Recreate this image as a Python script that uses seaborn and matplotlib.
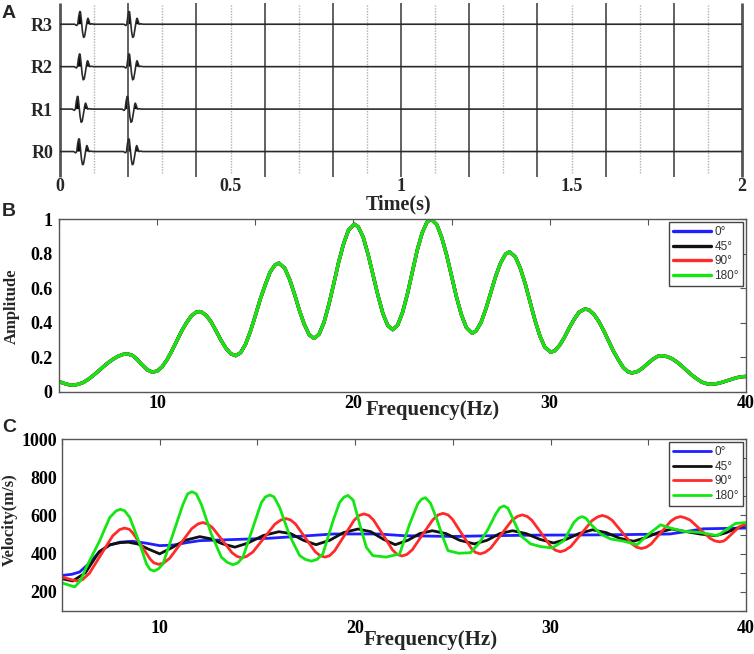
import numpy as np
import pandas as pd
import matplotlib
matplotlib.use("Agg")
import matplotlib.pyplot as plt
import seaborn as sns

# ---- data ----
# A: synthetic traces, two wavelet arrivals per receiver (s)
receivers = ["R0", "R1", "R2", "R3"]
arrivals = [[0.056, 0.202], [0.052, 0.198], [0.058, 0.203], [0.059, 0.203]]
wavelet_dt = [-0.016, -0.010, -0.007, -0.004, -0.001, 0.001, 0.004, 0.007, 0.010,
              0.013, 0.016, 0.019, 0.021, 0.023, 0.026, 0.029, 0.034, 0.040]
wavelet_amp = [0.0, -0.03, 0.0, 0.19, 0.30, 0.29, 0.07, -0.18, -0.31,
               -0.29, -0.15, 0.0, 0.10, 0.14, 0.08, 0.0, 0.01, 0.0]

# B: amplitude spectrum (identical for every angle)
freq_b = [5.0, 5.25, 5.5, 5.75, 6.0, 6.25, 6.5, 6.75, 7.0, 7.25,
          7.5, 7.75, 8.0, 8.25, 8.5, 8.75, 9.0, 9.25, 9.5, 9.75,
          10.0, 10.25, 10.5, 10.75, 11.0, 11.25, 11.5, 11.75, 12.0, 12.15,
          12.25, 12.5, 12.75, 13.0, 13.25, 13.5, 13.75, 14.0, 14.25, 14.5,
          14.75, 15.0, 15.25, 15.5, 15.75, 16.0, 16.2, 16.5, 16.75, 17.0,
          17.25, 17.5, 17.75, 18.0, 18.25, 18.5, 18.75, 19.0, 19.25, 19.5,
          19.75, 20.05, 20.25, 20.5, 20.75, 21.0, 21.25, 21.5, 21.75, 22.0,
          22.25, 22.5, 22.75, 23.0, 23.25, 23.5, 23.75, 23.95, 24.25, 24.5,
          24.75, 25.0, 25.25, 25.5, 25.75, 26.05, 26.25, 26.5, 26.75, 27.0,
          27.25, 27.5, 27.75, 27.95, 28.25, 28.5, 28.75, 29.0, 29.25, 29.5,
          29.75, 30.05, 30.25, 30.5, 30.75, 31.0, 31.25, 31.5, 31.8, 32.0,
          32.25, 32.5, 32.75, 33.0, 33.25, 33.5, 33.75, 34.0, 34.2, 34.5,
          34.75, 35.0, 35.25, 35.5, 35.7, 36.0, 36.25, 36.5, 36.75, 37.0,
          37.25, 37.5, 37.75, 38.0, 38.2, 38.5, 38.75, 39.0, 39.25, 39.5,
          39.75, 40.0]
amp_b = [.060, .050, .042, .040, .045, .056, .074, .096, .120, .145,
         .169, .189, .206, .217, .220, .211, .186, .155, .128, .115,
         .121, .145, .186, .238, .296, .353, .401, .441, .462, .465,
         .463, .443, .405, .354, .300, .254, .221, .210, .227, .275,
         .350, .440, .535, .617, .692, .734, .745, .716, .651, .565,
         .471, .390, .330, .310, .334, .402, .506, .627, .752, .857,
         .936, .970, .954, .894, .794, .677, .558, .454, .384, .360,
         .386, .459, .566, .693, .820, .919, .983, 1.000, .967, .893,
         .791, .670, .549, .447, .373, .340, .353, .402, .481, .575,
         .670, .747, .797, .810, .781, .716, .627, .520, .414, .324,
         .259, .230, .238, .269, .316, .372, .421, .462, .480, .474,
         .449, .408, .355, .295, .235, .186, .141, .116, .110, .120,
         .140, .165, .189, .206, .210, .204, .191, .172, .148, .122,
         .097, .076, .057, .048, .045, .048, .055, .064, .073, .082,
         .088, .090]

# C: phase velocity curves (m/s)
freq_0 = [5.0, 5.5, 5.9, 6.4, 6.9, 7.45, 7.95, 8.6, 9.3, 10.0, 10.7, 11.4, 12.05,
          13.5, 15.5, 17.0, 18.9, 21.2, 22.5, 25.0, 27.0, 29.3, 32.0, 34.0, 36.1,
          36.9, 37.8, 40.0]
vel_0 = [286, 292, 304, 350, 408, 445, 460, 465, 455, 442, 445, 458, 468, 473, 480,
         490, 503, 503, 494, 490, 494, 497, 498, 500, 503, 515, 530, 534]

freq_45 = [5.0, 5.55, 6.2, 6.9, 7.45, 8.0, 8.4, 8.9, 9.4, 10.0, 10.6, 11.3, 12.05,
           12.6, 13.2, 13.85, 14.5, 15.3, 16.1, 16.7, 17.35, 18.0, 18.7, 19.4, 20.15,
           20.8, 21.45, 22.05, 22.7, 23.3, 23.95, 24.65, 25.35, 26.1, 26.75, 27.4,
           28.05, 28.75, 29.45, 30.15, 30.8, 31.45, 32.15, 32.85, 33.55, 34.25, 34.9,
           35.55, 36.2, 36.95, 37.7, 38.45, 39.0, 39.5, 40.0]
vel_45 = [269, 257, 300, 410, 447, 458, 460, 450, 425, 399, 430, 470, 489, 478, 452,
          434, 455, 495, 515, 505, 470, 447, 470, 510, 529, 515, 475, 447, 470, 505,
          520, 505, 470, 451, 470, 505, 520, 505, 475, 456, 475, 505, 525, 510, 480,
          465, 485, 512, 529, 515, 502, 494, 510, 532, 551]

freq_90 = [5.0, 5.55, 5.8, 6.05, 6.4, 7.0, 7.6, 7.95, 8.2, 8.45,
           8.64, 9.08, 9.51, 9.7, 9.95, 10.2, 10.51, 11.08, 11.64, 11.95,
           12.2, 12.45, 12.7, 13.2, 13.7, 13.95, 14.2, 14.45, 14.76, 15.33,
           15.89, 16.2, 16.45, 16.7, 16.95, 17.45, 17.95, 18.2, 18.45, 18.7,
           18.95, 19.45, 19.95, 20.2, 20.45, 20.7, 20.94, 21.43, 21.91, 22.15,
           22.4, 22.65, 22.93, 23.45, 23.98, 24.25, 24.5, 24.75, 24.98, 25.45,
           25.93, 26.15, 26.4, 26.65, 26.94, 27.48, 28.01, 28.3, 28.55, 28.8,
           29.04, 29.53, 30.01, 30.25, 30.5, 30.75, 31.04, 31.58, 32.11, 32.4,
           32.65, 32.9, 33.15, 33.65, 34.15, 34.4, 34.65, 34.9, 35.15, 35.65,
           36.15, 36.4, 36.65, 36.9, 37.15, 37.65, 38.15, 38.4, 38.65, 38.85,
           38.99, 39.33, 39.66, 40.0]
vel_90 = [278, 262, 257, 264, 297, 396, 494, 526, 534, 527,
          506, 439, 372, 352, 344, 351, 376, 454, 531, 555,
          563, 555, 536, 471, 405, 386, 378, 386, 408, 481,
          554, 576, 584, 576, 555, 483, 411, 390, 382, 390,
          415, 495, 575, 600, 608, 600, 576, 498, 420, 396,
          388, 396, 421, 500, 578, 603, 611, 603, 580, 505,
          430, 407, 399, 407, 429, 501, 573, 595, 603, 595,
          575, 507, 438, 418, 410, 418, 438, 505, 572, 592,
          600, 592, 575, 514, 452, 434, 427, 434, 451, 511,
          570, 587, 594, 587, 575, 528, 481, 467, 462, 466,
          476, 509, 541, 555]

freq_180 = [5.0, 5.65, 5.95, 6.25, 6.93, 7.44, 7.77, 7.99, 8.21, 8.47,
            8.98, 9.32, 9.5, 9.71, 9.93, 10.17, 10.68, 11.19, 11.43, 11.65,
            11.87, 12.13, 12.64, 13.15, 13.45, 13.75, 14.0, 14.26, 14.77, 15.2,
            15.41, 15.63, 15.85, 16.14, 16.65, 17.16, 17.45, 17.76, 18.05, 18.35,
            18.87, 19.2, 19.42, 19.63, 19.9, 20.23, 20.57, 20.9, 21.58, 22.28,
            22.79, 23.2, 23.4, 23.6, 23.85, 24.15, 24.49, 24.75, 25.3, 25.9,
            26.3, 26.76, 27.19, 27.4, 27.61, 27.82, 28.04, 28.47, 28.98, 29.49,
            30.09, 30.68, 31.19, 31.42, 31.62, 31.82, 32.05, 32.56, 33.07, 33.75,
            34.43, 35.03, 35.63, 36.14, 36.82, 37.67, 38.53, 39.04, 39.46, 40.0]
vel_180 = [247, 226, 260, 330, 468, 589, 624, 632, 624, 589,
           451, 347, 318, 309, 320, 347, 503, 658, 713, 724,
           713, 658, 503, 382, 355, 342, 352, 382, 537, 667,
           697, 707, 697, 641, 494, 390, 370, 361, 370, 399,
           572, 667, 695, 705, 680, 555, 434, 390, 382, 399,
           555, 660, 685, 693, 665, 589, 486, 416, 402, 405,
           450, 520, 607, 640, 650, 638, 589, 494, 451, 437,
           430, 468, 563, 586, 594, 584, 555, 503, 477, 465,
           447, 503, 551, 534, 517, 511, 494, 529, 558, 563]

angles = ["0°", "45°", "90°", "180°"]
colors = {"0°": "#1f1fff", "45°": "#111111", "90°": "#ff2a2a", "180°": "#14e614"}

# ---- style ----
sns.set_style("white")
plt.rcParams["font.family"] = ["Liberation Serif", "DejaVu Serif"]
plt.rcParams["font.weight"] = "bold"
plt.rcParams["axes.labelweight"] = "bold"

fig = plt.figure(figsize=(7.54, 6.54), dpi=100)
W, H = 754.0, 654.0


def px_axes(left, top, right, bottom):
    return fig.add_axes([left / W, 1 - bottom / H, (right - left) / W, (bottom - top) / H])


def matlab_box(ax):
    for sp in ax.spines.values():
        sp.set_color("#555555")
        sp.set_linewidth(1.0)
    ax.tick_params(direction="in", top=True, right=True, length=4, width=0.8,
                   color="#555555", labelsize=13, labelcolor="black")


legend_kw = dict(loc="upper right", frameon=True, fancybox=False, edgecolor="#444444",
                 framealpha=1, handlelength=3.2, handletextpad=0.3, labelspacing=0.22,
                 borderpad=0.35, borderaxespad=0.25,
                 prop={"family": "Liberation Sans", "size": 8.5, "weight": "normal"},
                 labelcolor="#333333")

# ---- A: traces ----
ax_a = px_axes(60, 3, 742, 177)
ax_a.set_xlim(0, 2)
ax_a.set_ylim(-0.6, 3.5)
for x in np.arange(0.1, 2.0, 0.2):
    ax_a.vlines(x, -0.5, 3.45, color="#b0b0b0", lw=1, linestyles=(0, (1, 1)))
for x in np.arange(0.0, 2.01, 0.2):
    ax_a.vlines(x, -0.6, 3.5, color="#555555", lw=2 if x > 1.99 or x < 0.01 else 1.3,
                clip_on=False)
for i, name in enumerate(receivers):
    t, a = [0.0], [0.0]
    for t0 in arrivals[i]:
        t += [t0 + d for d in wavelet_dt]
        a += wavelet_amp
    t.append(2.0)
    a.append(0.0)
    t, a = np.array(t), np.array(a)
    ax_a.plot(t, i + a, color="#2a2a2a", lw=1.2)
    ax_a.fill_between(t, i, i + a, where=a > 0, interpolate=True, color="black", lw=0)
for sp in ax_a.spines.values():
    sp.set_visible(False)
ax_a.set_xticks([0, 0.5, 1, 1.5, 2], ["0", "0.5", "1", "1.5", "2"])
ax_a.set_yticks([0, 1, 2, 3], receivers)
ax_a.tick_params(axis="x", length=0, labelsize=13, pad=0.5)
ax_a.tick_params(axis="y", length=0, labelsize=13, pad=5)
ax_a.set_xlabel("Time(s)", fontsize=14.5)
ax_a.xaxis.set_label_coords(0.497, -0.16)
ax_a.xaxis.label.set_va("center")

# ---- B: amplitude spectrum ----
df_b = pd.concat([pd.DataFrame({"freq": freq_b, "amp": amp_b, "angle": ang}) for ang in angles])
ax_b = px_axes(59, 219, 746, 392)
sns.lineplot(data=df_b, x="freq", y="amp", hue="angle", hue_order=angles, palette=colors,
             estimator=None, lw=2.4, legend=False, solid_joinstyle="round", ax=ax_b)
ax_b.set_xlim(5, 40)
ax_b.set_ylim(0, 1)
ax_b.set_xticks(range(5, 41, 5), ["", "10", "", "20", "", "30", "", "40"])
ax_b.set_yticks([0, 0.2, 0.4, 0.6, 0.8, 1], ["0", "0.2", "0.4", "0.6", "0.8", "1"])
matlab_box(ax_b)
ax_b.tick_params(axis="x", pad=2.5)
ax_b.tick_params(axis="y", pad=4.5)
ax_b.set_xlabel("Frequency(Hz)", fontsize=15)
ax_b.set_ylabel("Amplitude", fontsize=12)
ax_b.xaxis.set_label_coords(0.544, -0.104)
ax_b.yaxis.set_label_coords(-0.068, 0.493)
ax_b.xaxis.label.set_va("center")
ax_b.yaxis.label.set_va("center")
ax_b.legend(ax_b.get_lines()[:4], angles, **legend_kw)

# ---- C: velocity dispersion ----
df_c = pd.concat([
    pd.DataFrame({"freq": freq_0, "vel": vel_0, "angle": "0°"}),
    pd.DataFrame({"freq": freq_45, "vel": vel_45, "angle": "45°"}),
    pd.DataFrame({"freq": freq_90, "vel": vel_90, "angle": "90°"}),
    pd.DataFrame({"freq": freq_180, "vel": vel_180, "angle": "180°"}),
])
ax_c = px_axes(62, 439, 746, 611)
sns.lineplot(data=df_c, x="freq", y="vel", hue="angle", hue_order=angles, palette=colors,
             estimator=None, lw=2.0, legend=False, solid_joinstyle="round", ax=ax_c)
ax_c.set_xlim(5, 40)
ax_c.set_ylim(100, 1000)
ax_c.set_xticks(range(5, 41, 5), ["", "10", "", "20", "", "30", "", "40"])
ax_c.set_yticks(range(100, 1001, 100),
                ["", "200", "", "400", "", "600", "", "800", "", "1000"])
matlab_box(ax_c)
ax_c.tick_params(axis="x", pad=6.5)
ax_c.tick_params(axis="y", pad=3.5)
ax_c.set_xlabel("Frequency(Hz)", fontsize=15)
ax_c.set_ylabel("Velocity(m/s)", fontsize=12)
ax_c.xaxis.set_label_coords(0.539, -0.169)
ax_c.yaxis.set_label_coords(-0.076, 0.529)
ax_c.xaxis.label.set_va("center")
ax_c.yaxis.label.set_va("center")
ax_c.legend(ax_c.get_lines()[:4], angles, **legend_kw)

# panel letters
for letter, ypx in [("A", 13), ("B", 212), ("C", 428)]:
    fig.text(9 / W, 1 - ypx / H, letter, fontsize=14, fontweight="bold",
             family=["Liberation Sans", "DejaVu Sans"], ha="center", va="center")

fig.savefig("out.png", dpi=100)
